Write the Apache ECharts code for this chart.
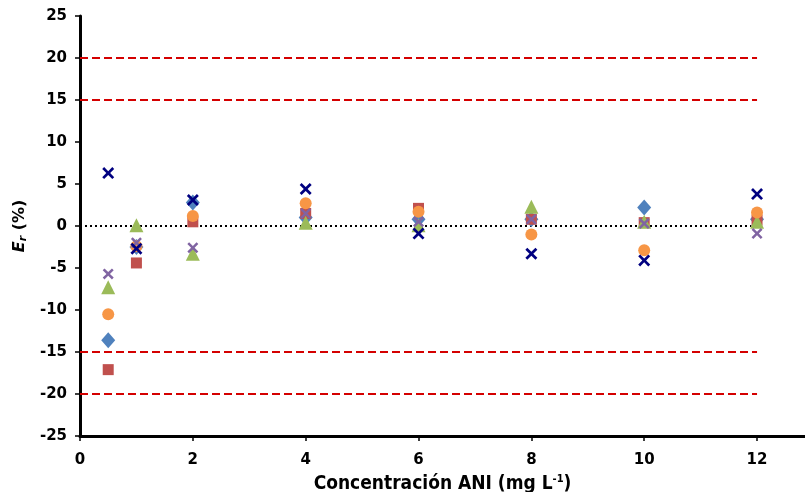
<!DOCTYPE html>
<html>
<head>
<meta charset="utf-8">
<script src="https://cdn.jsdelivr.net/npm/echarts@6/dist/echarts.min.js"></script>
<style>
html,body{margin:0;padding:0;background:#fff;}
#chart{width:805px;height:492px;}
</style>
</head>
<body>
<div id="chart"></div>
<script>
// Concentration levels (mg L-1)
const concentrations = [0.5, 1, 2, 4, 6, 8, 10, 12];

// Relative error (%) per sample set
const setDiamond = [-13.6, -2.5, 2.8, 1.0, 0.8, 0.8, 2.2, 0.8];
const setSquare  = [-17.1, -4.4, 0.5, 1.5, 2.1, 0.8, 0.4, 0.7];
const setTriangle= [-7.3, 0.1, -3.3, 0.4, 0.1, 2.3, 0.5, 0.5];
const setCircle  = [-10.5, -2.4, 1.2, 2.7, 1.7, -1.0, -2.9, 1.6];
const setCrossA  = [-5.7, -2.0, -2.6, 1.5, 0.5, 0.8, 0.3, -0.9];
const setCrossB  = [6.3, -2.7, 3.1, 4.4, -0.9, -3.3, -4.1, 3.8];

// Acceptance limits and zero reference
const limitLevels = [20, 15, -15, -20];
const limitRange = [0, 12];

const yTicks = [-25, 25, 5];
const xTicks = [0, 12.85, 2];

const crossPath = 'path://M1.6,0 L5,3.4 L8.4,0 L10,1.6 L6.6,5 L10,8.4 L8.4,10 L5,6.6 L1.6,10 L0,8.4 L3.4,5 L0,1.6 Z';

function pairs(vals) {
  return concentrations.map((c, i) => [c, vals[i]]);
}

const font = 'DejaVu Sans';

const series = [];
limitLevels.forEach(v => {
  series.push({
    type: 'line', silent: true, symbol: 'none', z: 1,
    data: limitRange.map(x => [x, v]),
    lineStyle: { color: '#D40000', width: 2, type: [8, 4] }
  });
});
series.push({
  type: 'line', silent: true, symbol: 'none', z: 1,
  data: [[0, 0], [limitRange[1] - 0.1, 0]],
  lineStyle: { color: '#000', width: 2, type: [2, 3] }
});

function scatter(vals, symbol, size, color) {
  series.push({
    type: 'scatter', data: pairs(vals), symbol: symbol, symbolSize: size,
    itemStyle: { color: color, opacity: 1 }, z: 3
  });
}
scatter(setDiamond, 'diamond', [14, 16], '#4F81BD');
scatter(setSquare, 'rect', 11, '#C0504D');
scatter(setTriangle, 'triangle', [14, 14], '#9BBB59');
scatter(setCircle, 'circle', 12, '#F79646');
scatter(setCrossA, crossPath, 11, '#8064A2');
scatter(setCrossB, crossPath, 12, '#000080');

const chart = echarts.init(document.getElementById('chart'));
chart.setOption({
  animation: false,
  backgroundColor: '#fff',
  grid: { left: 80, right: 0, top: 16, bottom: 56, outerBoundsMode: 'none', containLabel: false },
  xAxis: {
    type: 'value', min: xTicks[0], max: xTicks[1], interval: xTicks[2],
    splitLine: { show: false },
    axisLine: { onZero: false, lineStyle: { color: '#000', width: 3 } },
    axisTick: { length: 5, lineStyle: { color: '#000', width: 1.5 } },
    axisLabel: { showMaxLabel: false, color: '#000', fontFamily: font, fontWeight: 'bold', fontSize: 15, margin: 17 },
    name: '{t|Concentración ANI (mg L}{s|-1}{t|)}',
    nameLocation: 'middle', nameGap: 38,
    nameTextStyle: {
      rich: {
        t: { fontFamily: 'DejaVu Sans Condensed', fontWeight: 'bold', fontSize: 19, color: '#000' },
        s: { fontFamily: 'DejaVu Sans Condensed', fontWeight: 'bold', fontSize: 11, color: '#000', verticalAlign: 'top', padding: [0, 0, 9, 0] }
      }
    }
  },
  yAxis: {
    type: 'value', min: yTicks[0], max: yTicks[1], interval: yTicks[2],
    splitLine: { show: false },
    axisLine: { onZero: false, lineStyle: { color: '#000', width: 3 } },
    axisTick: { length: 5, lineStyle: { color: '#000', width: 1.5 } },
    axisLabel: { color: '#000', fontFamily: font, fontWeight: 'bold', fontSize: 15, margin: 13 },
    name: '{e|E}{r|r}{p| (%)}',
    nameLocation: 'middle', nameGap: 48, nameRotate: 90,
    nameTextStyle: {
      rich: {
        e: { fontFamily: font, fontWeight: 'bold', fontStyle: 'italic', fontSize: 16, color: '#000' },
        r: { fontFamily: font, fontWeight: 'bold', fontStyle: 'italic', fontSize: 11, color: '#000', verticalAlign: 'bottom', padding: [7, 0, 0, 0] },
        p: { fontFamily: font, fontWeight: 'bold', fontSize: 16, color: '#000' }
      }
    }
  },
  series: series
});
</script>
</body>
</html>
